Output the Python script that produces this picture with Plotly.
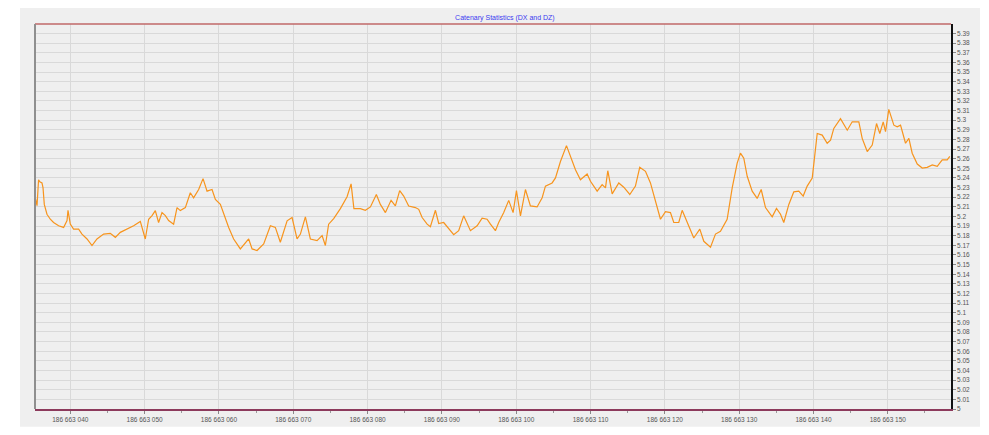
import plotly.graph_objects as go

# Catenary height along the track
STATION_BASE = 186663000
station = [
    35.29, 35.52, 35.73, 35.90, 36.19, 36.33, 36.50, 36.86, 37.31, 37.75,
    38.43, 39.10, 39.56, 39.69, 40.00, 40.44, 41.12, 41.57, 42.25, 42.92,
    43.59, 44.48, 45.38, 46.06, 46.73, 47.63, 48.52, 49.42, 50.09, 50.54,
    51.00, 51.44, 51.88, 52.34, 52.79, 53.23, 53.90, 54.36, 54.80, 55.48,
    56.15, 56.59, 57.27, 57.86, 58.40, 59.07, 59.52, 60.19, 60.63, 61.31,
    61.98, 62.88, 64.00, 64.46, 65.13, 66.02, 66.92, 67.59, 68.26, 69.17,
    69.84, 70.51, 70.96, 71.63, 72.30, 73.20, 73.88, 74.32, 74.76, 75.44,
    76.34, 77.24, 77.78, 78.16, 79.03, 79.70, 80.38, 81.18, 81.72, 82.40,
    83.16, 83.74, 84.32, 84.86, 85.53, 86.43, 86.88, 87.34, 88.01, 88.45,
    89.13, 89.57, 90.24, 90.92, 91.59, 92.26, 92.93, 93.84, 94.74, 95.41,
    96.08, 96.53, 97.20, 97.64, 98.32, 98.99, 99.58, 100.03, 100.57, 101.24,
    101.91, 102.81, 103.49, 103.93, 104.83, 105.28, 105.95, 106.76, 107.29, 107.97,
    108.64, 109.54, 109.99, 110.89, 111.56, 112.01, 112.32, 112.91, 113.80, 114.47,
    115.28, 116.04, 116.62, 117.39, 118.06, 118.73, 119.41, 120.08, 120.75, 121.20,
    121.87, 122.33, 123.00, 123.89, 124.70, 125.24, 126.14, 126.81, 127.48, 128.38,
    129.06, 129.73, 130.17, 130.62, 131.08, 131.75, 132.42, 132.96, 133.54, 134.44,
    135.02, 135.56, 136.00, 136.68, 137.35, 138.02, 138.61, 139.15, 139.83, 140.13,
    140.50, 141.17, 141.84, 142.29, 142.73, 143.63, 144.54, 145.21, 146.10, 146.55,
    147.23, 147.90, 148.48, 148.92, 149.38, 149.69, 150.13, 150.81, 151.26, 151.71,
    152.38, 152.83, 153.28, 153.96, 154.63, 155.30, 155.98, 156.65, 157.32, 157.99,
    158.34,
]
height = [
    5.2194, 5.2112, 5.2382, 5.2359, 5.2348, 5.2297, 5.2125, 5.2023, 5.1971, 5.1937,
    5.1903, 5.1886, 5.1958, 5.2064, 5.1920, 5.1868, 5.1868, 5.1817, 5.1766, 5.1698,
    5.1766, 5.1817, 5.1824, 5.1783, 5.1835, 5.1868, 5.1903, 5.1948, 5.1766, 5.1971,
    5.2009, 5.2061, 5.1937, 5.2040, 5.2009, 5.1958, 5.1920, 5.2092, 5.2061, 5.2092,
    5.2246, 5.2194, 5.2280, 5.2393, 5.2263, 5.2280, 5.2177, 5.2125, 5.2023, 5.1886,
    5.1766, 5.1663, 5.1766, 5.1663, 5.1646, 5.1714, 5.1903, 5.1886, 5.1732, 5.1955,
    5.1989, 5.1766, 5.1817, 5.1996, 5.1766, 5.1749, 5.1801, 5.1698, 5.1920, 5.1978,
    5.2081, 5.2205, 5.2338, 5.2081, 5.2081, 5.2064, 5.2099, 5.2228, 5.2125, 5.2040,
    5.2167, 5.2109, 5.2269, 5.2212, 5.2109, 5.2092, 5.2074, 5.1989, 5.1920, 5.1893,
    5.2064, 5.1927, 5.1937, 5.1868, 5.1811, 5.1852, 5.2006, 5.1852, 5.1903, 5.1982,
    5.1971, 5.1920, 5.1852, 5.1937, 5.2040, 5.2167, 5.2040, 5.2269, 5.2006, 5.2280,
    5.2109, 5.2099, 5.2194, 5.2315, 5.2348, 5.2400, 5.2571, 5.2736, 5.2623, 5.2485,
    5.2382, 5.2441, 5.2366, 5.2263, 5.2331, 5.2297, 5.2475, 5.2235, 5.2348, 5.2304,
    5.2228, 5.2315, 5.2510, 5.2469, 5.2348, 5.2160, 5.1971, 5.2050, 5.2040, 5.1937,
    5.1937, 5.2064, 5.1937, 5.1776, 5.1868, 5.1742, 5.1680, 5.1817, 5.1845, 5.1971,
    5.2297, 5.2554, 5.2657, 5.2605, 5.2417, 5.2263, 5.2187, 5.2280, 5.2092, 5.1996,
    5.2084, 5.2023, 5.1937, 5.2125, 5.2256, 5.2263, 5.2212, 5.2315, 5.2400, 5.2605,
    5.2862, 5.2845, 5.2760, 5.2793, 5.2914, 5.3016, 5.2896, 5.2983, 5.2983, 5.2811,
    5.2674, 5.2742, 5.2965, 5.2862, 5.2983, 5.2880, 5.3112, 5.2948, 5.2931, 5.2948,
    5.2760, 5.2811, 5.2657, 5.2544, 5.2503, 5.2510, 5.2536, 5.2520, 5.2588, 5.2588,
    5.2623,
]

x_range = [35.25, 158.5]
y_range = [5.0, 5.3999]

panel_grey = '#efefef'
grid_grey = '#d9d9d9'
label_grey = '#555555'

fig = go.Figure()
fig.add_trace(go.Scatter(
    x=[STATION_BASE + s for s in station],
    y=height,
    mode='lines',
    line=dict(color='#f7941d', width=1.2),
    showlegend=False,
))

# the page body keeps its default 8px margin, so the figure is 8px smaller
fig.update_layout(
    width=981,
    height=427,
    margin=dict(l=27, r=38, t=16, b=21),
    paper_bgcolor='white',
    plot_bgcolor=panel_grey,
    separators='. ',
    font=dict(family='Liberation Sans, Arial, sans-serif', size=6.5, color=label_grey),
    title=dict(
        text='Catenary Statistics (DX and DZ)',
        font=dict(size=7, color='#3b3bf0'),
        x=0.513, xanchor='center', xref='paper',
        y=0.977, yanchor='middle',
    ),
    shapes=[
        # grey panel behind everything
        dict(type='rect', xref='paper', yref='paper', layer='below',
             x0=-0.0164, x1=1.0317, y0=-0.046, y1=1.051,
             fillcolor=panel_grey, line=dict(width=0)),
        # top border
        dict(type='line', xref='paper', yref='paper', x0=0, x1=1, y0=1, y1=1,
             line=dict(color='#c06868', width=1.5)),
        # left border
        dict(type='line', xref='paper', yref='paper', x0=0, x1=0, y0=0, y1=1,
             line=dict(color='#8f8f8f', width=2)),
    ],
)

fig.update_xaxes(
    range=[STATION_BASE + x_range[0], STATION_BASE + x_range[1]],
    tick0=STATION_BASE + 40, dtick=10,
    tickformat=',d',
    showgrid=True, gridcolor=grid_grey, gridwidth=1.3,
    zeroline=False,
    showline=True, linecolor='#8c3a5c', linewidth=2,
    ticks='outside', ticklen=3, tickcolor='#888888',
    tickfont=dict(size=6.5, color=label_grey),
    minor=dict(dtick=5, tick0=STATION_BASE + 35, ticks='outside', ticklen=2,
               tickcolor='#999999', showgrid=False),
)
fig.update_yaxes(
    range=y_range,
    side='right',
    tick0=5, dtick=0.01,
    showgrid=True, gridcolor=grid_grey, gridwidth=1.3,
    zeroline=False,
    showline=True, linecolor='#111111', linewidth=1.5,
    ticks='outside', ticklen=3, tickcolor='#888888',
    tickfont=dict(size=6.5, color=label_grey),
)

fig.write_html("out.html")
